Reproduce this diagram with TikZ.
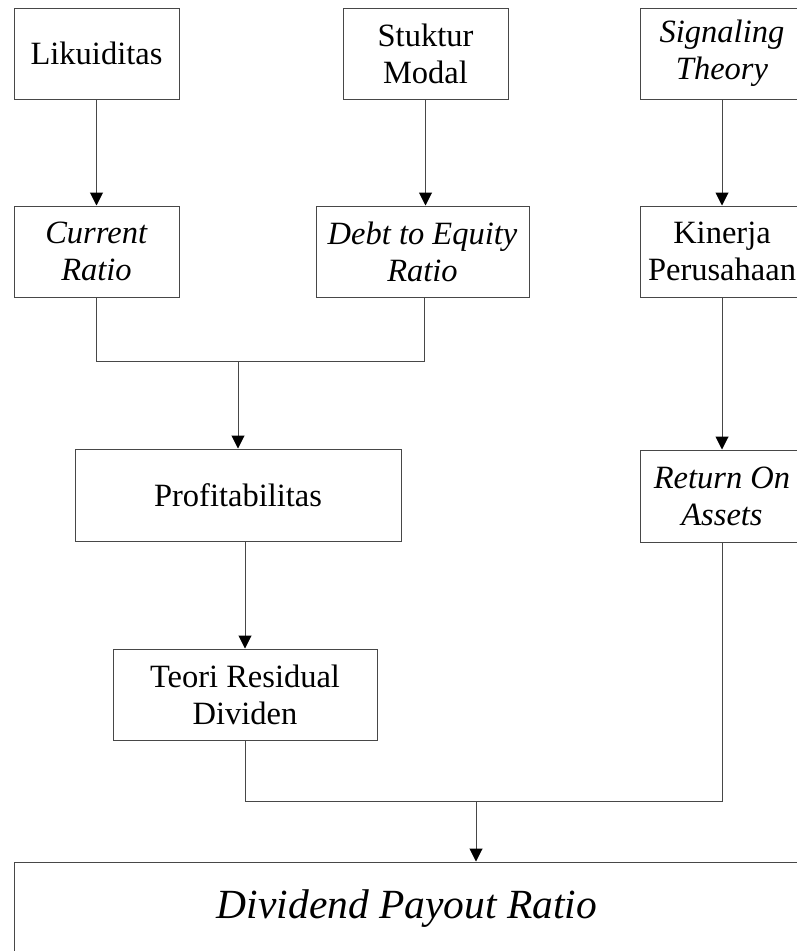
\documentclass[tikz,border=0pt]{standalone}
\usepackage{fontspec}
\setmainfont{Liberation Serif}
\usetikzlibrary{arrows.meta}
\begin{document}
\begin{tikzpicture}[x=1pt,y=-1pt,
  box/.style={draw=black!72, line width=1pt, rectangle, align=center, inner sep=0pt,
    font=\fontsize{32.5}{37}\selectfont},
  link/.style={draw=black!72, line width=1pt},
  arr/.style={link, -{Triangle[width=13pt,length=13pt,fill=black,color=black]}}]
\clip (0,0) rectangle (797,951);
\fill[white] (0,0) rectangle (797,951);
% row 1
\node[box, minimum width=165pt, minimum height=91pt] (lik) at (96.5,53.5) {Likuiditas};
\node[box, minimum width=165pt, minimum height=91pt] (stu) at (425.5,53.5) {Stuktur\\Modal};
\node[box, minimum width=164pt, minimum height=91pt] (sig) at (722,53.5) {\textit{Signaling}\\\textit{Theory}};
% row 2
\node[box, minimum width=165pt, minimum height=91pt] (cr) at (96.5,251.5) {\textit{Current}\\\textit{Ratio}};
\node[box, minimum width=213pt, minimum height=91pt] (der) at (422.5,251.5) {\textit{Debt to Equity}\\\textit{Ratio}};
\node[box, minimum width=164pt, minimum height=91pt] (kin) at (722,251.5) {Kinerja\\Perusahaan};
% row 3
\node[box, minimum width=326pt, minimum height=92pt] (pro) at (238,495) {Profitabilitas};
\node[box, minimum width=164pt, minimum height=92pt] (roa) at (722,496) {\textit{Return On}\\\textit{Assets}};
% row 4
\node[box, minimum width=264pt, minimum height=91pt] (teo) at (245,694.5) {Teori Residual\\Dividen};
% bottom
\node[box, minimum width=786pt, minimum height=94pt, font=\fontsize{41.5}{48}\selectfont] (dpr) at (407,909) {\textit{Dividend Payout Ratio}};
% connectors
\draw[arr] (lik.south) -- (cr.north);
\draw[arr] (stu.south) -- (stu.south |- der.north);
\draw[arr] (sig.south) -- (kin.north);
\coordinate (j1) at (238,361.7);
\draw[link] (cr.south) -- (cr.south |- j1) -- ([xshift=1.5pt]der.south |- j1) -- ([xshift=1.5pt]der.south);
\draw[arr] (j1) -- (pro.north);
\draw[arr] (kin.south) -- (roa.north);
\draw[arr] (pro.south -| teo.north) -- (teo.north);
\coordinate (j2) at (476,801.7);
\draw[link] (teo.south) -- (teo.south |- j2) -- (roa.south |- j2) -- (roa.south);
\draw[arr] (j2) -- (j2 |- dpr.north);
\end{tikzpicture}
\end{document}
